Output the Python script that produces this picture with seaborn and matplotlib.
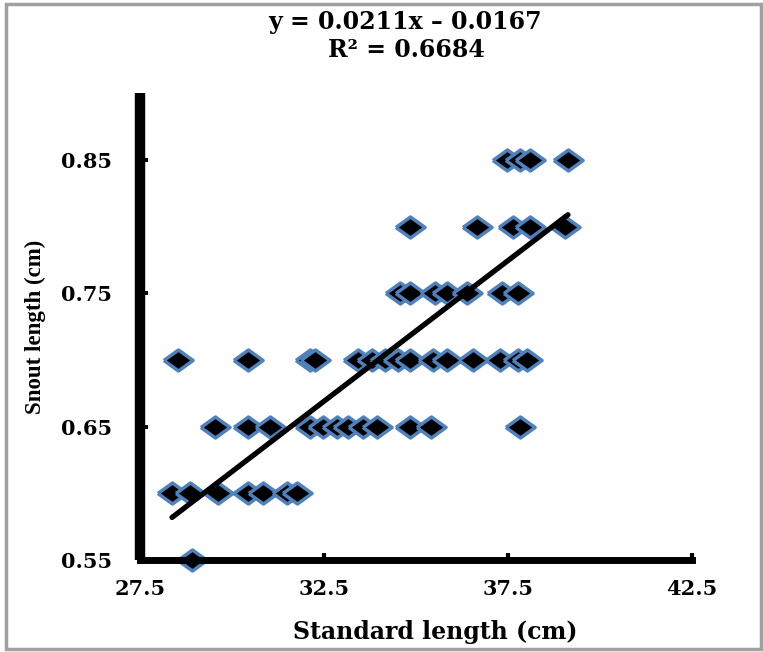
import matplotlib
matplotlib.use("Agg")
import matplotlib.pyplot as plt
import seaborn as sns
import pandas as pd
import numpy as np
from matplotlib.patches import Rectangle

# ---- data ----
snout_levels = [0.85, 0.80, 0.75, 0.70, 0.65, 0.60, 0.55]
sl_085 = [37.47, 37.83, 38.10, 39.13]
sl_080 = [34.84, 36.66, 37.64, 38.10, 39.05]
sl_075 = [34.57, 34.84, 35.52, 35.84, 36.39, 37.34, 37.77]
sl_070 = [28.53, 30.43, 32.12, 32.26, 33.42, 33.80, 34.16, 34.51, 34.84,
          35.46, 35.84, 36.55, 37.28, 37.77, 38.02]
sl_065 = [29.54, 30.43, 31.03, 32.12, 32.47, 32.85, 33.15, 33.56, 33.94,
          34.84, 35.41, 37.83]
sl_060 = [28.37, 28.86, 29.62, 30.43, 30.84, 31.49, 31.77]
sl_055 = [28.91]

trend_slope = 0.0211
trend_intercept = -0.0167
r_squared = 0.6684

x_ticks = [27.5, 32.5, 37.5, 42.5]
y_ticks = [0.55, 0.65, 0.75, 0.85]

rows = [sl_085, sl_080, sl_075, sl_070, sl_065, sl_060, sl_055]
df = pd.DataFrame({
    "standard": [x for r in rows for x in r],
    "snout": [lvl for lvl, r in zip(snout_levels, rows) for _ in r],
}).sort_values("standard")

line_x = [df["standard"].min(), df["standard"].max()]
trend = pd.DataFrame({"standard": line_x,
                      "snout": [trend_slope * v + trend_intercept for v in line_x]})

# ---- figure ----
sns.set_style("white")
plt.rcParams["text.color"] = "black"
plt.rcParams["axes.labelcolor"] = "black"
plt.rcParams["xtick.color"] = "black"
plt.rcParams["ytick.color"] = "black"

W, H = 763, 652
fig = plt.figure(figsize=(W / 100, H / 100), dpi=100)
ax = fig.add_axes([140 / W, 1 - 560 / H, (692 - 140) / W, (560 - 93.3) / H])

diamond = [(-1, 0), (0, 0.72), (1, 0), (0, -0.72), (-1, 0)]
sns.scatterplot(data=df, x="standard", y="snout", ax=ax, marker=diamond,
                s=440, color="black", edgecolor="#4f81bd", linewidth=2.5,
                zorder=3, clip_on=False)
sns.lineplot(data=trend, x="standard", y="snout", ax=ax, color="black",
             linewidth=3.8, zorder=4, solid_capstyle="round")

ax.set_xlim(27.5, 42.5)
ax.set_ylim(0.55, 0.90)
ax.set_xticks(x_ticks)
ax.set_yticks(y_ticks)
ax.set_xticklabels([f"{v:.1f}" for v in x_ticks])
ax.set_yticklabels([f"{v:.2f}" for v in y_ticks])

for side in ["top", "right"]:
    ax.spines[side].set_visible(False)
ax.spines["left"].set_linewidth(7.5)
ax.spines["bottom"].set_linewidth(5.0)
ax.spines["left"].set_capstyle("butt")
ax.spines["bottom"].set_capstyle("projecting")
for s in ["left", "bottom"]:
    ax.spines[s].set_color("black")
    ax.spines[s].set_zorder(5)

ax.tick_params(axis="y", direction="in", length=6, width=2.8, color="black",
               pad=20, left=True)
ax.tick_params(axis="x", direction="in", length=5, width=3, color="black",
               pad=14, bottom=True)
for lab in ax.get_xticklabels() + ax.get_yticklabels():
    lab.set_fontfamily("DejaVu Serif")
    lab.set_fontweight("bold")
    lab.set_fontsize(15)
    lab.set_color("black")

ax.set_xlabel("Standard length (cm)", fontfamily="DejaVu Serif",
              fontweight="bold", fontsize=17, color="black")
ax.xaxis.set_label_coords((435 - 140) / 552, (560 - 632) / 466.7)
ax.set_ylabel("Snout length (cm)", fontfamily="Liberation Serif",
              fontweight="bold", fontsize=16.5, color="black")
ax.yaxis.set_label_coords((35 - 140) / 552, 0.5)
ax.xaxis.label.set_va("center")
ax.yaxis.label.set_va("center")

fig.text(405 / W, 1 - 22 / H, f"y = {trend_slope}x \u2013 {abs(trend_intercept)}",
         ha="center", va="center", fontfamily="DejaVu Serif",
         fontweight="bold", fontsize=17, color="black")
fig.text(406 / W, 1 - 50 / H, f"R\u00b2 = {r_squared}",
         ha="center", va="center", fontfamily="DejaVu Serif",
         fontweight="bold", fontsize=17, color="black")

fig.patches.append(Rectangle((6 / W, 3 / H), (W - 8) / W, (H - 7) / H,
                             transform=fig.transFigure, fill=False,
                             edgecolor="#a0a0a0", linewidth=2.5))

fig.savefig("out.png", dpi=100)
